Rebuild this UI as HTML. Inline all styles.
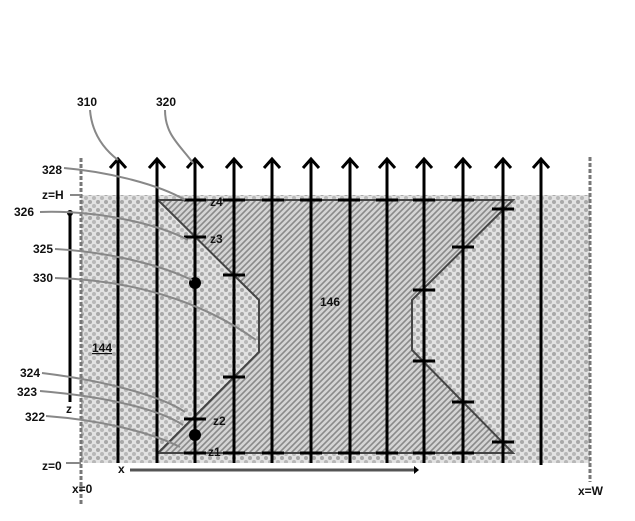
<!DOCTYPE html>
<html><head><meta charset="utf-8"><style>
body{margin:0;background:#fff}
svg{display:block}
text{font-family:"Liberation Sans",sans-serif;font-weight:bold;font-size:12px;fill:#111}
</style></head><body>
<svg width="635" height="521" viewBox="0 0 635 521" xmlns="http://www.w3.org/2000/svg">
<defs>
<pattern id="dots" width="8" height="8" patternUnits="userSpaceOnUse">
<rect width="8" height="8" fill="#e2e2e2"/>
<circle cx="2" cy="2" r="2" fill="#a8a8a8"/>
<circle cx="6" cy="6" r="2" fill="#b8b8b8"/>
</pattern>
<pattern id="hatch" width="6" height="6" patternUnits="userSpaceOnUse">
<rect width="6" height="6" fill="#d4d4d4"/>
<path d="M-1,7 L7,-1 M-1,1 L1,-1 M5,7 L7,5" stroke="#8a8a8a" stroke-width="1.6"/>
</pattern>
</defs>
<rect x="81" y="195" width="509" height="268" fill="url(#dots)"/>
<polygon points="158,200 513,200 412,300 412,350 513,453 158,453 259,352 259,300" fill="url(#hatch)" stroke="#444" stroke-width="2"/>
<line x1="81" y1="158" x2="81" y2="505" stroke="#777" stroke-width="3" stroke-dasharray="4,2"/>
<line x1="590" y1="157" x2="590" y2="482" stroke="#777" stroke-width="3" stroke-dasharray="4,2"/>
<g stroke="#000" stroke-width="3" fill="none">
<path d="M118,463 V160 M110,168 L118,159 L126,168"/>
<path d="M157,463 V160 M149,168 L157,159 L165,168"/>
<path d="M195,463 V160 M187,168 L195,159 L203,168"/>
<path d="M234,463 V160 M226,168 L234,159 L242,168"/>
<path d="M272,463 V160 M264,168 L272,159 L280,168"/>
<path d="M311,463 V160 M303,168 L311,159 L319,168"/>
<path d="M350,463 V160 M342,168 L350,159 L358,168"/>
<path d="M387,463 V160 M379,168 L387,159 L395,168"/>
<path d="M424,463 V160 M416,168 L424,159 L432,168"/>
<path d="M463,463 V160 M455,168 L463,159 L471,168"/>
<path d="M503,463 V160 M495,168 L503,159 L511,168"/>
<path d="M541,465 V160 M533,168 L541,159 L549,168"/>
<path d="M184,200h22 M223,200h22 M262,200h22 M300,200h22 M338,200h22 M376,200h22 M413,200h22 M452,200h22 M492,209h22"/>
<path d="M184,453h22 M223,453h22 M262,453h22 M300,453h22 M338,453h22 M376,453h22 M413,453h22 M452,453h22 M492,442h22"/>
<path d="M184,237h22 M223,275h22 M223,377h22 M184,419h22"/>
<path d="M413,290h22 M452,247h22 M413,361h22 M452,402h22"/>
<path d="M70,402 V214"/>
</g>
<circle cx="195" cy="283" r="6" fill="#000"/>
<circle cx="195" cy="435" r="6" fill="#000"/>
<circle cx="70" cy="213" r="3" fill="#000"/>
<line x1="130" y1="470" x2="415" y2="470" stroke="#555" stroke-width="3"/>
<path d="M414,466 L419,470 L414,474Z" fill="#000"/>
<g stroke="#888" stroke-width="2" fill="none">
<path d="M90,110 C92,135 105,150 118,160"/>
<path d="M165,110 C165,135 180,145 193,163"/>
<path d="M64,168 C110,172 160,185 185,200"/>
<path d="M40,212 C100,210 160,225 188,240"/>
<path d="M55,249 C110,252 160,265 192,280"/>
<path d="M55,278 C130,280 200,300 256,340"/>
<path d="M42,373 C100,380 160,395 185,412"/>
<path d="M40,391 C110,397 160,410 183,425"/>
<path d="M46,416 C100,420 150,432 180,447"/>
<path d="M70,195 h11"/>
<path d="M66,463 h15"/>
</g>
<text x="77" y="106">310</text>
<text x="156" y="106">320</text>
<text x="42" y="174">328</text>
<text x="42" y="199" font-size="11">z=H</text>
<text x="14" y="216">326</text>
<text x="33" y="253">325</text>
<text x="33" y="282">330</text>
<text x="92" y="352" text-decoration="underline">144</text>
<text x="320" y="306">146</text>
<text x="20" y="377">324</text>
<text x="17" y="396">323</text>
<text x="25" y="421">322</text>
<text x="66" y="413">z</text>
<text x="42" y="470" font-size="11">z=0</text>
<text x="72" y="493" font-size="11">x=0</text>
<text x="118" y="473" font-size="11">x</text>
<text x="578" y="495" font-size="11">x=W</text>
<text x="210" y="206" font-size="8">z4</text>
<text x="210" y="243" font-size="8">z3</text>
<text x="213" y="425" font-size="8">z2</text>
<text x="208" y="456" font-size="8">z1</text>
</svg>
</body></html>
